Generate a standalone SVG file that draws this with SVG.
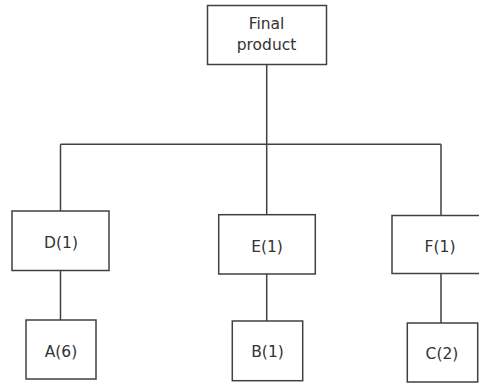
<svg xmlns="http://www.w3.org/2000/svg" width="479" height="383" viewBox="0 0 479 383">
<style>
.box{fill:#fff;stroke:#404040;stroke-width:1.5}
.lbl{font-family:"DejaVu Sans","Open Sans",sans-serif;font-size:15.5px;fill:#333;text-anchor:middle}
.con{stroke:#404040;stroke-width:1.5;fill:none}
</style>
<rect width="479" height="383" fill="#fff"/>
<g id="connectors">
<line class="con" x1="266.7" y1="64" x2="266.7" y2="215"/>
<line class="con" x1="60.5" y1="144.3" x2="441" y2="144.3"/>
<line class="con" x1="60.5" y1="144.3" x2="60.5" y2="211"/>
<line class="con" x1="441" y1="144.3" x2="441" y2="215.5"/>
<line class="con" x1="60.5" y1="270.5" x2="60.5" y2="320"/>
<line class="con" x1="266.7" y1="274" x2="266.7" y2="321"/>
<line class="con" x1="441" y1="273.5" x2="441" y2="323"/>
</g>
<g id="final">
<rect class="box" x="207.5" y="5.5" width="119" height="59"/>
<text class="lbl" x="266.5" y="29">Final</text>
<text class="lbl" x="266.5" y="49.5">product</text>
</g>
<g id="D">
<rect class="box" x="12" y="211" width="97" height="59.5"/>
<text class="lbl" x="61" y="248.3">D(1)</text>
</g>
<g id="E">
<rect class="box" x="218.7" y="214.7" width="96.6" height="59.3"/>
<text class="lbl" x="267" y="251.5">E(1)</text>
</g>
<g id="F">
<rect class="box" x="392" y="215.5" width="97" height="58"/>
<text class="lbl" x="440" y="251.5">F(1)</text>
</g>
<g id="A">
<rect class="box" x="26" y="320" width="70" height="59"/>
<text class="lbl" x="61" y="357">A(6)</text>
</g>
<g id="B">
<rect class="box" x="232.3" y="321" width="70.4" height="59.7"/>
<text class="lbl" x="267.5" y="357">B(1)</text>
</g>
<g id="C">
<rect class="box" x="407.3" y="323" width="70.4" height="59"/>
<text class="lbl" x="442" y="358.5">C(2)</text>
</g>
</svg>
